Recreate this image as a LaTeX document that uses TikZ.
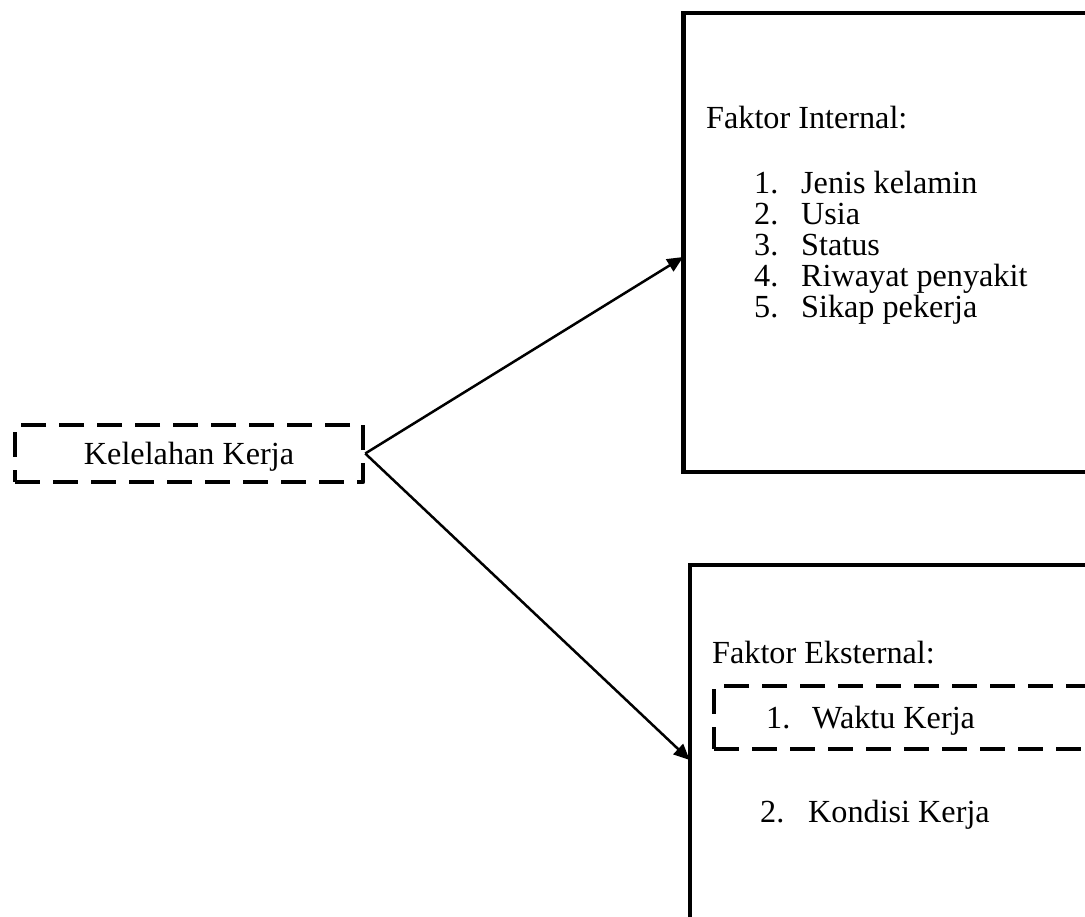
\documentclass[tikz,border=0pt]{standalone}
\usepackage{fontspec}
\setmainfont{Liberation Serif}
\usetikzlibrary{arrows.meta}
\begin{document}
\begin{tikzpicture}[x=1pt,y=-1pt,
  every node/.style={font=\fontsize{32.2}{36}\selectfont, inner sep=0pt},
  solidbox/.style={draw, line width=4.5pt, rectangle, line join=miter},
  dashbox/.style={draw, line width=4.5pt, rectangle, dash pattern=on 25pt off 13pt, line join=round},
  txt/.style={anchor=base west},
  conn/.style={line width=2.5pt, -{Triangle[length=16pt,width=14pt]}}]
\useasboundingbox (0,0) rectangle (1085,917);
\clip (0,0) rectangle (1085,917);
% main dashed node
\node[dashbox, minimum width=348pt, minimum height=57pt, text depth=0pt] (k) at (189,453.5) {Kelelahan Kerja};
% internal box
\node[solidbox, minimum width=417pt, minimum height=459pt] (int) at (892,242.5) {};
% external box
\node[solidbox, minimum width=412pt, minimum height=375pt] (ext) at (896,752.5) {};
% Waktu dashed box
\node[dashbox, minimum width=385pt, minimum height=63pt] (wk) at (906.5,717.5) {};
% texts
\node[txt] (ti) at (706,129) {Faktor Internal:};
\node[txt] (n1) at (754,194) {1.};
\node[txt] (i1) at (801,194) {Jenis kelamin};
\node[txt] (n2) at (754,225) {2.};
\node[txt] (i2) at (801,225) {Usia};
\node[txt] (n3) at (754,256) {3.};
\node[txt] (i3) at (801,256) {Status};
\node[txt] (n4) at (754,287) {4.};
\node[txt] (i4) at (801,287) {Riwayat penyakit};
\node[txt] (n5) at (754,318) {5.};
\node[txt] (i5) at (801,318) {Sikap pekerja};
\node[txt] (te) at (712,663) {Faktor Eksternal:};
\node[txt] (e1n) at (766,728) {1.};
\node[txt] (e1) at (812,728) {Waktu Kerja};
\node[txt] (e2n) at (760,822) {2.};
\node[txt] (e2) at (808,822) {Kondisi Kerja};
% connectors
\draw[conn] (k.east) -- ([yshift=-14.5pt,xshift=2pt]int.west);
\draw[conn] (k.east) -- ([yshift=-7.5pt,xshift=2pt]ext.west);
\end{tikzpicture}
\end{document}
